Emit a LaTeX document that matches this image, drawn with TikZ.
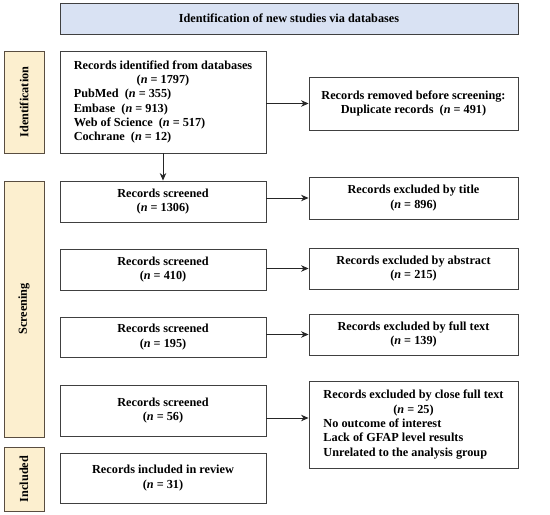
\documentclass[tikz,border=0pt]{standalone}
\usepackage{fontspec}
\setmainfont{Liberation Serif}
\usetikzlibrary{arrows.meta}
\definecolor{bannerblue}{HTML}{D9E2F3}
\definecolor{sideyellow}{HTML}{FCEFCF}
\definecolor{boxline}{HTML}{404040}
\tikzset{
  txt/.style={font=\fontsize{12.3}{14.4}\selectfont\bfseries},
  box/.style={draw=boxline, line width=0.9bp, fill=white, txt, inner sep=0pt, align=center},
  side/.style={draw=boxline!80!brown, line width=0.9bp, fill=sideyellow, txt, inner sep=0pt},
  arr/.style={-{Stealth[length=7.5bp,width=6.5bp]}, line width=0.8bp, black!85}
}
\newcommand{\nn}{\textit{n}}
\begin{document}
\begin{tikzpicture}[x=1bp,y=-1bp]
\useasboundingbox (0,0) rectangle (550,515);
% banner
\node[box, fill=bannerblue, minimum width=458bp, minimum height=31bp] (ban) at (289,18.5) {Identification of new studies via databases};
% side labels
\node[side, minimum width=40bp, minimum height=102bp] (sid) at (24,102) {};
\node[txt, rotate=90] at (sid.center) {Identification};
\node[side, minimum width=40bp, minimum height=256bp] (sscr) at (24,309) {};
\node[txt, rotate=90] at (sscr.center) {Screening};
\node[side, minimum width=40bp, minimum height=64bp] (sinc) at (24,479) {};
\node[txt, rotate=90] at (sinc.center) {Included};
% left boxes
\node[box, minimum width=206bp, minimum height=102bp] (b1) at (163,102) {%
  \begin{tabular}{@{}l@{}}
  Records identified from databases\\
  \multicolumn{1}{@{}c@{}}{(\nn{} = 1797)}\\
  PubMed~ (\nn{} = 355)\\
  Embase~ (\nn{} = 913)\\
  Web of Science~ (\nn{} = 517)\\
  Cochrane~ (\nn{} = 12)
  \end{tabular}};
\node[box, minimum width=206bp, minimum height=41bp] (s1) at (163,201.5) {Records screened\\(\nn{} = 1306)};
\node[box, minimum width=206bp, minimum height=41bp] (s2) at (163,269.5) {Records screened\\(\nn{} = 410)};
\node[box, minimum width=206bp, minimum height=40bp] (s3) at (163,337) {Records screened\\(\nn{} = 195)};
\node[box, minimum width=206bp, minimum height=51bp] (s4) at (163,410.5) {Records screened\\(\nn{} = 56)};
\node[box, minimum width=206bp, minimum height=50bp] (inc) at (163,478) {Records included in review\\(\nn{} = 31)};
% right boxes
\node[box, minimum width=209bp, minimum height=53bp] (rm) at (413.5,103.5) {Records removed before screening:\\Duplicate records~ (\nn{} = 491)};
\node[box, minimum width=209bp, minimum height=42bp] (e1) at (413.5,198) {Records excluded by title\\(\nn{} = 896)};
\node[box, minimum width=209bp, minimum height=41bp] (e2) at (413.5,268.5) {Records excluded by abstract\\(\nn{} = 215)};
\node[box, minimum width=209bp, minimum height=41bp] (e3) at (413.5,334.5) {Records excluded by full text\\(\nn{} = 139)};
\node[box, minimum width=209bp, minimum height=87bp] (e4) at (413.5,424.5) {%
  \begin{tabular}{@{}l@{}}
  Records excluded by close full text\\
  \multicolumn{1}{@{}c@{}}{(\nn{} = 25)}\\
  No outcome of interest\\
  Lack of GFAP level results\\
  Unrelated to the analysis group
  \end{tabular}};
% arrows
\draw[arr] (b1.east |- rm.west) -- (rm.west);
\draw[arr] (b1.south) -- (s1.north);
\draw[arr] (s1.east |- e1.west) -- (e1.west);
\draw[arr] (s2.east |- e2.west) -- (e2.west);
\draw[arr] (s3.east |- e3.west) -- (e3.west);
\coordinate (a4) at ([yshift=-7.5bp]s4.east);
\draw[arr] (a4) -- (e4.west |- a4);
\end{tikzpicture}
\end{document}
